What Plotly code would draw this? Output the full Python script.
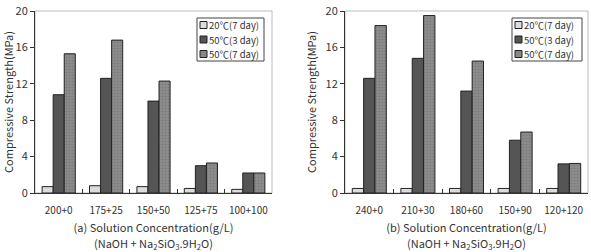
import plotly.graph_objects as go

cats_a = ["200+0", "175+25", "150+50", "125+75", "100+100"]
cats_b = ["240+0", "210+30", "180+60", "150+90", "120+120"]
series_names = ["20℃(7 day)", "50℃(3 day)", "50℃(7 day)"]
vals_a_20c7 = [0.7, 0.8, 0.7, 0.5, 0.4]
vals_a_50c3 = [10.8, 12.6, 10.1, 3.0, 2.2]
vals_a_50c7 = [15.3, 16.8, 12.3, 3.3, 2.2]
vals_b_20c7 = [0.5, 0.5, 0.5, 0.5, 0.5]
vals_b_50c3 = [12.6, 14.8, 11.2, 5.8, 3.2]
vals_b_50c7 = [18.4, 19.5, 14.5, 6.7, 3.25]
yticks = [0, 4, 8, 12, 16, 20]

FONT = "Noto Sans CJK KR, Roboto, sans-serif"
TXT = "#333333"
W, H = 591, 252

fills = ["#dcdcdc", "#555555", "#888888"]
styles = [
    dict(color=fills[0], line=dict(color="#222222", width=1)),
    dict(color=fills[1], line=dict(color="#222222", width=1)),
    dict(color=fills[2], line=dict(color="#222222", width=1),
         pattern=dict(shape=".", fgcolor="#666666", bgcolor="#8e8e8e", size=3, solidity=0.35)),
]

fig = go.Figure()
for i, (name, va, vb) in enumerate(zip(series_names,
                                       [vals_a_20c7, vals_a_50c3, vals_a_50c7],
                                       [vals_b_20c7, vals_b_50c3, vals_b_50c7])):
    fig.add_trace(go.Bar(x=cats_a, y=va, name=name, marker=styles[i],
                         xaxis="x", yaxis="y", showlegend=False))
    fig.add_trace(go.Bar(x=cats_b, y=vb, name=name, marker=styles[i],
                         xaxis="x2", yaxis="y2", showlegend=False))

ydom = [59 / H, 241 / H]
xa_dom = [35 / W, 272 / W]
xb_dom = [345 / W, 588 / W]

def xaxis(dom, anchor, title):
    return dict(domain=dom, anchor=anchor, type="category", automargin=False,
                showline=True, linecolor="#333333", linewidth=1,
                ticks="inside", tickson="boundaries", ticklen=4, tickcolor="#333333",
                tickangle=0, ticklabelstandoff=8,
                tickfont=dict(size=10, color=TXT, family=FONT),
                showgrid=False, zeroline=False,
                title=dict(text=title, font=dict(size=11, color=TXT, family=FONT), standoff=8))

def yaxis(anchor):
    return dict(domain=ydom, anchor=anchor, range=[0, 20], tickvals=yticks, automargin=False,
                showline=True, linecolor="#333333", linewidth=1,
                ticks="outside", ticklen=4, tickcolor="#333333",
                tickfont=dict(size=11, color=TXT, family=FONT),
                showgrid=False, zeroline=False,
                title=dict(text="Compressive Strength(MPa)",
                           font=dict(size=11, color=TXT, family=FONT), standoff=6))

sub = "(NaOH + Na<sub>2</sub>SiO<sub>3</sub>.9H<sub>2</sub>O)"
fig.update_layout(
    width=W, height=H, margin=dict(l=0, r=0, t=0, b=0),
    paper_bgcolor="white", plot_bgcolor="white",
    barmode="group", bargap=0.3, bargroupgap=0,
    xaxis=xaxis(xa_dom, "y", "(a) Solution Concentration(g/L)"),
    yaxis=yaxis("x"),
    xaxis2=xaxis(xb_dom, "y2", "(b) Solution Concentration(g/L)"),
    yaxis2=yaxis("x2"),
    showlegend=False,
)
for xr, yr in [("x domain", "y domain"), ("x2 domain", "y2 domain")]:
    fig.add_shape(type="rect", xref=xr, yref=yr, x0=0, x1=1, y0=0, y1=1,
                  line=dict(color="#bbbbbb", width=1), layer="below")


def px(x):
    return x / W


def py(y):
    return 1 - y / H


# second line of x-axis titles
for xr in ["x domain", "x2 domain"]:
    fig.add_annotation(xref=xr, yref="paper", x=0.5, y=py(243), xanchor="center",
                       yanchor="middle", showarrow=False, borderpad=0, text=sub,
                       font=dict(size=11, color=TXT, family=FONT))

# legend boxes
for (bx0, bx1) in [(197, 264), (512, 582)]:
    fig.add_shape(type="rect", xref="paper", yref="paper",
                  x0=px(bx0), x1=px(bx1), y0=py(61), y1=py(18),
                  line=dict(color="#444444", width=1), fillcolor="white")
    for i, name in enumerate(series_names):
        cy = 25 + i * 14.5
        fig.add_shape(type="rect", xref="paper", yref="paper",
                      x0=px(bx0 + 3), x1=px(bx0 + 10), y0=py(cy + 3.5), y1=py(cy - 3.5),
                      line=dict(color="#222222", width=1), fillcolor=fills[i])
        fig.add_annotation(xref="paper", yref="paper", x=px(bx0 + 11), y=py(cy),
                           xanchor="left", yanchor="middle", showarrow=False,
                           borderpad=0, text=name,
                           font=dict(size=9.5, color=TXT, family=FONT))

fig.write_html("out.html")
